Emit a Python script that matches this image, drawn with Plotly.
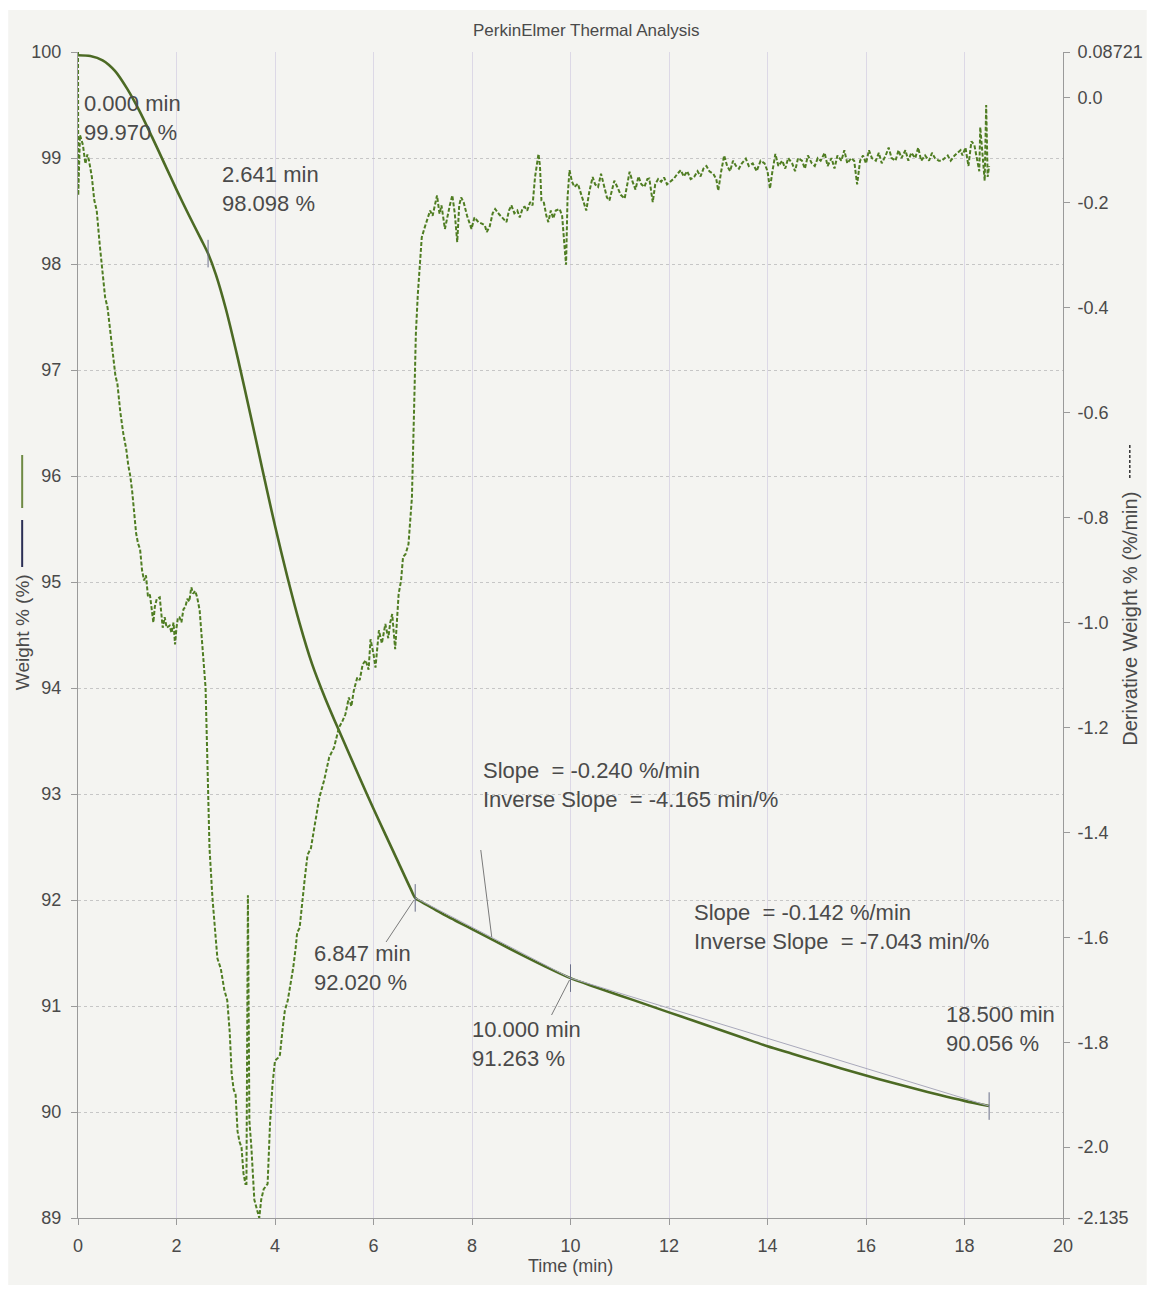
import plotly.graph_objects as go

# ---- Weight % (left axis) ----
weight_time = [0.0, 0.25, 0.5, 0.75, 1.0, 1.25, 1.5, 1.75, 2.0, 2.25, 2.5, 2.641,
               2.8, 3.0, 3.25, 3.5, 3.75, 3.85, 4.0, 4.25, 4.5, 4.75, 5.0, 5.25, 5.5,
               5.75, 6.0, 6.25, 6.5, 6.75, 6.847, 7.0, 7.25, 7.5, 7.75, 8.0, 8.5,
               9.0, 9.5, 10.0, 10.5, 11.0, 11.5, 12.0, 12.5, 13.0, 13.5, 14.0,
               14.5, 15.0, 15.5, 16.0, 16.5, 17.0, 17.5, 18.0, 18.5]
weight_pct = [99.970, 99.962, 99.922, 99.822, 99.652, 99.442, 99.202, 98.952, 98.702,
              98.462, 98.232, 98.098, 97.90, 97.58, 97.10, 96.58, 96.05, 95.84, 95.53,
              95.05, 94.61, 94.23, 93.925, 93.65, 93.385, 93.12, 92.86, 92.61, 92.36,
              92.11, 92.020, 91.975, 91.91, 91.845, 91.785, 91.725, 91.605, 91.485,
              91.37, 91.263, 91.18, 91.10, 91.02, 90.94, 90.86, 90.78, 90.70, 90.62,
              90.55, 90.48, 90.41, 90.345, 90.28, 90.22, 90.16, 90.105, 90.056]

# ---- Derivative weight % (right axis) ----
deriv_time = [0.00, 0.005, 0.04, 0.10, 0.15, 0.19, 0.22, 0.28, 0.33, 0.38, 0.44, 0.50,
              0.55, 0.60, 0.66, 0.72, 0.76, 0.80, 0.86, 0.92, 0.98, 1.02, 1.06, 1.10,
              1.14, 1.18, 1.22, 1.26, 1.30, 1.34, 1.38, 1.42, 1.46, 1.50, 1.53, 1.56,
              1.60, 1.66, 1.69, 1.72, 1.76, 1.80, 1.86, 1.90, 1.94, 1.97, 2.00, 2.03,
              2.06, 2.10, 2.14, 2.18, 2.22, 2.26, 2.30, 2.34, 2.38, 2.42, 2.47, 2.53,
              2.59, 2.62, 2.67, 2.73, 2.78, 2.83, 2.90, 2.97, 3.03, 3.08, 3.12, 3.16,
              3.20, 3.24, 3.28, 3.32, 3.36, 3.40, 3.42, 3.45, 3.48, 3.52, 3.58, 3.64,
              3.68, 3.72, 3.77, 3.85, 3.90, 3.95, 4.00, 4.06, 4.10, 4.16, 4.20, 4.26,
              4.30, 4.37, 4.42, 4.45, 4.50, 4.55, 4.60, 4.66, 4.73, 4.80, 4.90, 5.00,
              5.10, 5.20, 5.25, 5.30, 5.36, 5.43, 5.50, 5.55, 5.60, 5.67, 5.72, 5.78,
              5.84, 5.90, 5.94, 6.00, 6.04, 6.11, 6.17, 6.24, 6.30, 6.34, 6.38, 6.44,
              6.51, 6.56, 6.60, 6.65, 6.71, 6.75, 6.78, 6.82, 6.86, 6.90, 6.98, 7.04,
              7.10, 7.15, 7.20, 7.25, 7.29, 7.34, 7.38, 7.45, 7.50, 7.55, 7.60, 7.65,
              7.70, 7.74, 7.78, 7.83, 7.90, 7.99, 8.05, 8.13, 8.20, 8.26, 8.30, 8.36,
              8.42, 8.47, 8.55, 8.62, 8.70, 8.75, 8.80, 8.86, 8.92, 8.97, 9.03, 9.07,
              9.12, 9.18, 9.23, 9.28, 9.35, 9.38, 9.41, 9.46, 9.51, 9.55, 9.60, 9.65,
              9.70, 9.78, 9.83, 9.88, 9.91, 9.94, 9.98, 10.03, 10.08, 10.15, 10.20,
              10.26, 10.32, 10.38, 10.45, 10.50, 10.56, 10.62, 10.68, 10.74, 10.79,
              10.84, 10.89, 10.95, 11.02, 11.10, 11.15, 11.20, 11.26, 11.32, 11.38,
              11.44, 11.50, 11.56, 11.60, 11.67, 11.72, 11.78, 11.84, 11.90, 11.96,
              12.03, 12.10, 12.17, 12.24, 12.30, 12.37, 12.44, 12.51, 12.58, 12.64,
              12.70, 12.76, 12.82, 12.90, 12.96, 13.00, 13.06, 13.12, 13.18, 13.24,
              13.30, 13.36, 13.42, 13.48, 13.56, 13.62, 13.70, 13.78, 13.86, 13.94,
              14.00, 14.05, 14.10, 14.16, 14.22, 14.30, 14.36, 14.42, 14.50, 14.56,
              14.62, 14.70, 14.76, 14.82, 14.90, 14.96, 15.02, 15.08, 15.16, 15.22,
              15.30, 15.36, 15.42, 15.50, 15.56, 15.62, 15.70, 15.76, 15.82, 15.88,
              15.94, 16.00, 16.06, 16.12, 16.20, 16.26, 16.32, 16.40, 16.46, 16.52,
              16.60, 16.66, 16.72, 16.80, 16.86, 16.92, 17.00, 17.06, 17.12, 17.20,
              17.28, 17.34, 17.40, 17.48, 17.54, 17.60, 17.66, 17.72, 17.80, 17.86,
              17.92, 17.96, 18.02, 18.08, 18.14, 18.20, 18.26, 18.30, 18.32, 18.36,
              18.41, 18.44, 18.47, 18.50]
deriv_value = [0.08721, -0.186, -0.071, -0.09, -0.126, -0.108, -0.118, -0.150, -0.195,
               -0.215, -0.279, -0.33, -0.38, -0.40, -0.45, -0.50, -0.53, -0.545, -0.60,
               -0.64, -0.67, -0.70, -0.72, -0.75, -0.79, -0.83, -0.85, -0.86, -0.90,
               -0.92, -0.91, -0.95, -0.947, -0.975, -1.00, -0.97, -0.955, -0.952, -0.99,
               -1.01, -0.99, -1.01, -1.006, -1.02, -1.00, -1.042, -1.01, -0.99, -0.99,
               -1.00, -0.975, -0.97, -0.955, -0.96, -0.933, -0.945, -0.94, -0.952,
               -0.977, -1.048, -1.124, -1.238, -1.43, -1.525, -1.58, -1.64, -1.66,
               -1.70, -1.72, -1.78, -1.86, -1.89, -1.90, -1.97, -1.99, -2.00, -2.05,
               -2.07, -2.07, -1.52, -1.95, -2.00, -2.10, -2.12, -2.135, -2.10, -2.08,
               -2.07, -1.953, -1.88, -1.835, -1.83, -1.824, -1.77, -1.74, -1.72, -1.70,
               -1.658, -1.62, -1.591, -1.582, -1.53, -1.492, -1.443, -1.43, -1.39,
               -1.334, -1.30, -1.257, -1.238, -1.22, -1.20, -1.19, -1.175, -1.143,
               -1.16, -1.13, -1.105, -1.11, -1.08, -1.072, -1.09, -1.032, -1.06, -1.086,
               -1.015, -1.04, -1.003, -1.03, -1.00, -0.984, -1.051, -0.946, -0.92,
               -0.875, -0.870, -0.851, -0.80, -0.762, -0.609, -0.45, -0.374, -0.266,
               -0.247, -0.23, -0.215, -0.225, -0.20, -0.186, -0.221, -0.205, -0.25,
               -0.225, -0.205, -0.186, -0.22, -0.275, -0.205, -0.19, -0.199, -0.225,
               -0.25, -0.228, -0.237, -0.24, -0.243, -0.256, -0.245, -0.22, -0.212,
               -0.222, -0.23, -0.237, -0.215, -0.205, -0.22, -0.215, -0.228, -0.21,
               -0.208, -0.215, -0.199, -0.205, -0.151, -0.107, -0.13, -0.196, -0.20,
               -0.225, -0.237, -0.215, -0.23, -0.215, -0.212, -0.225, -0.285, -0.318,
               -0.19, -0.138, -0.16, -0.17, -0.164, -0.18, -0.20, -0.215, -0.18,
               -0.151, -0.165, -0.17, -0.145, -0.17, -0.19, -0.196, -0.175, -0.158,
               -0.17, -0.185, -0.192, -0.165, -0.141, -0.16, -0.175, -0.15, -0.165,
               -0.17, -0.155, -0.154, -0.199, -0.165, -0.155, -0.16, -0.152, -0.165,
               -0.16, -0.154, -0.145, -0.138, -0.15, -0.14, -0.155, -0.151, -0.14,
               -0.15, -0.135, -0.13, -0.14, -0.145, -0.155, -0.177, -0.14, -0.110,
               -0.13, -0.14, -0.12, -0.13, -0.135, -0.125, -0.116, -0.13, -0.125,
               -0.14, -0.12, -0.125, -0.14, -0.173, -0.14, -0.107, -0.13, -0.12,
               -0.135, -0.115, -0.125, -0.14, -0.115, -0.12, -0.135, -0.11, -0.125,
               -0.13, -0.115, -0.12, -0.105, -0.13, -0.115, -0.135, -0.11, -0.12,
               -0.10, -0.125, -0.115, -0.12, -0.165, -0.12, -0.11, -0.125, -0.10,
               -0.115, -0.12, -0.105, -0.125, -0.11, -0.095, -0.115, -0.12, -0.10,
               -0.115, -0.10, -0.12, -0.105, -0.115, -0.095, -0.12, -0.11, -0.12,
               -0.105, -0.115, -0.12, -0.12, -0.115, -0.11, -0.12, -0.11, -0.105,
               -0.10, -0.11, -0.095, -0.13, -0.083, -0.09, -0.12, -0.14, -0.056,
               -0.10, -0.158, -0.014, -0.151, -0.13]

# ---- Event markers on the weight curve ----
marker_time = [0.0, 2.641, 6.847, 10.0, 18.5]
marker_weight = [99.970, 98.098, 92.020, 91.263, 90.056]

# ---- Slope segments between markers ----
slope_values = [-0.240, -0.142]
inverse_slope_values = [-4.165, -7.043]

# ---- Axes ----
x_ticks = [0, 2, 4, 6, 8, 10, 12, 14, 16, 18, 20]
left_ticks = [89, 90, 91, 92, 93, 94, 95, 96, 97, 98, 99, 100]
right_ticks = [0.08721, 0.0, -0.2, -0.4, -0.6, -0.8, -1.0, -1.2, -1.4, -1.6, -1.8, -2.0, -2.135]
right_tick_labels = ["0.08721", "0.0", "-0.2", "-0.4", "-0.6", "-0.8", "-1.0", "-1.2",
                     "-1.4", "-1.6", "-1.8", "-2.0", "-2.135"]

# plot-area edges in page pixels
L, R, T, B = 78, 1066, 52, 1218
W, H = R - L, B - T


def px(x):
    return (x - L) / W


def py(y):
    return (B - y) / H


FONT = "Liberation Sans, Arial, sans-serif"
TXT = "#4a4a4a"
WEIGHT_COLOR = "#4c6a24"
DERIV_COLOR = "#4f7d22"

fig = go.Figure()

fig.add_trace(go.Scatter(
    x=deriv_time, y=deriv_value, yaxis="y2", mode="lines",
    line=dict(color=DERIV_COLOR, width=2, dash="4px,2px"),
    hoverinfo="skip", showlegend=False))

fig.add_trace(go.Scatter(
    x=weight_time, y=weight_pct, mode="lines",
    line=dict(color=WEIGHT_COLOR, width=2.6, shape="spline", smoothing=0.8),
    hoverinfo="skip", showlegend=False))

# straight slope segments 6.847 -> 10 min and 10 -> 18.5 min
for i in range(2):
    fig.add_trace(go.Scatter(
        x=[marker_time[i + 2], marker_time[i + 3]],
        y=[marker_weight[i + 2], marker_weight[i + 3]],
        mode="lines", line=dict(color="#a9a9bb", width=1),
        hoverinfo="skip", showlegend=False))

shapes = []
# scanned sheet
shapes.append(dict(type="rect", xref="paper", yref="paper", layer="below",
                   x0=px(8), x1=px(1150), y0=py(10), y1=py(1285),
                   fillcolor="#f4f4f1", line=dict(width=0)))

# short vertical ticks at each event marker
for t, w in zip(marker_time[1:], marker_weight[1:]):
    shapes.append(dict(type="line", xref="x", yref="y", x0=t, x1=t,
                       y0=w - 0.13, y1=w + 0.13,
                       line=dict(color="#6a6f8a", width=1)))

# leader lines from labels to the curve
leaders = [
    ((415, 900), (387, 942)),
    ((571, 980), (553, 1015)),
    ((493, 937), (482, 850)),
]
for (x0, y0), (x1, y1) in leaders:
    shapes.append(dict(type="line", xref="paper", yref="paper",
                       x0=px(x0), y0=py(y0), x1=px(x1), y1=py(y1),
                       line=dict(color="#7a7a7a", width=1)))

# axis-title line keys
shapes.append(dict(type="line", xref="paper", yref="paper", x0=px(22), x1=px(22),
                   y0=py(455), y1=py(508), line=dict(color="#6e8a44", width=2)))
shapes.append(dict(type="line", xref="paper", yref="paper", x0=px(22), x1=px(22),
                   y0=py(520), y1=py(567), line=dict(color="#2b2f55", width=2)))
shapes.append(dict(type="line", xref="paper", yref="paper", x0=px(1133), x1=px(1133),
                   y0=py(445), y1=py(478),
                   line=dict(color="#333333", width=1.5, dash="3px,2px")))

annotations = []


def label(text, x, y, size=22, anchor="left"):
    annotations.append(dict(text=text, xref="paper", yref="paper", x=px(x), y=py(y),
                            xanchor=anchor, yanchor="middle", align=anchor,
                            showarrow=False,
                            font=dict(family=FONT, size=size, color=TXT)))


# marker readouts (two lines each)
label_pos = [(82, 118), (220, 189), (313, 968), (471, 1044), (947, 1029)]
for (x, y), t, w in zip(label_pos, marker_time, marker_weight):
    label(f"{t:.3f} min<br>{w:.3f} %", x, y)

# slope readouts
slope_pos = [(482, 785), (694, 927)]
for (x, y), s, inv in zip(slope_pos, slope_values, inverse_slope_values):
    label(f"Slope  = {s:.3f} %/min<br>Inverse Slope  = {inv:.3f} min/%", x, y)

label("PerkinElmer Thermal Analysis", 588, 30, size=17, anchor="center")
label("Time (min)", 572, 1266, size=18, anchor="center")

annotations.append(dict(text="Weight % (%)", xref="paper", yref="paper",
                        x=px(22), y=py(632), xanchor="center", yanchor="middle",
                        textangle=-90, showarrow=False,
                        font=dict(family=FONT, size=19, color=TXT)))
annotations.append(dict(text="Derivative Weight % (%/min)", xref="paper", yref="paper",
                        x=px(1133), y=py(619), xanchor="center", yanchor="middle",
                        textangle=-90, showarrow=False,
                        font=dict(family=FONT, size=20, color=TXT)))

axis_common = dict(showline=True, linecolor="#9a9a9a", linewidth=1, ticks="outside",
                   ticklen=6, tickcolor="#9a9a9a", zeroline=False,
                   tickfont=dict(family=FONT, size=18, color=TXT))

fig.update_layout(
    width=1155, height=1290,
    margin=dict(l=L, r=1155 - R, t=T, b=1290 - B),
    paper_bgcolor="white", plot_bgcolor="rgba(0,0,0,0)",
    showlegend=False,
    xaxis=dict(range=[0, 20], tickvals=x_ticks, showgrid=True, gridcolor="#dcd8e6",
               gridwidth=1, ticklabelstandoff=5, **axis_common),
    yaxis=dict(range=[89, 100], tickvals=left_ticks, showgrid=True, gridcolor="#c6c6c6",
               griddash="dot", gridwidth=1, ticklabelstandoff=6, **axis_common),
    yaxis2=dict(range=[-2.135, 0.08721], overlaying="y", side="right",
                tickvals=right_ticks, ticktext=right_tick_labels, showgrid=False,
                ticklabelstandoff=4, **axis_common),
    shapes=shapes, annotations=annotations,
)

fig.write_html("out.html")
